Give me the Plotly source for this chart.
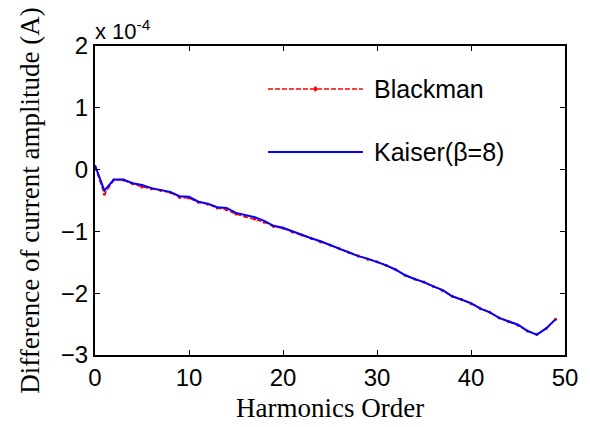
import plotly.graph_objects as go

# Harmonic orders 0..49
harmonic_order = list(range(50))

# Current amplitude differences, in units of 1e-4 A
kaiser_diff = [0.07, -0.34, -0.16, -0.16, -0.22, -0.25, -0.30, -0.33, -0.36, -0.43,
               -0.44, -0.52, -0.55, -0.61, -0.62, -0.70, -0.73, -0.77, -0.83, -0.91,
               -0.94, -1.00, -1.06, -1.11, -1.16, -1.22, -1.28, -1.34, -1.40, -1.44,
               -1.49, -1.55, -1.62, -1.71, -1.77, -1.82, -1.89, -1.95, -2.05, -2.10,
               -2.16, -2.25, -2.31, -2.40, -2.46, -2.51, -2.61, -2.67, -2.57, -2.42]
blackman_diff = [0.05, -0.40, -0.17, -0.17, -0.23, -0.28, -0.31, -0.34, -0.37, -0.45,
                 -0.46, -0.53, -0.56, -0.62, -0.65, -0.72, -0.76, -0.80, -0.85, -0.92,
                 -0.95, -1.01, -1.06, -1.11, -1.17, -1.22, -1.28, -1.34, -1.40, -1.45,
                 -1.49, -1.55, -1.62, -1.71, -1.77, -1.82, -1.89, -1.96, -2.05, -2.10,
                 -2.17, -2.25, -2.31, -2.40, -2.46, -2.52, -2.61, -2.67, -2.57, -2.42]

series_names = ["Blackman", "Kaiser(β=8)"]
x_ticks = [0, 10, 20, 30, 40, 50]
y_ticks = [-3, -2, -1, 0, 1, 2]

SANS = "Arial, 'Liberation Sans', sans-serif"
SERIF = "'Times New Roman', 'Liberation Serif', serif"
TICK_SIZE = 24
TITLE_SIZE = 27
LEGEND_SIZE = 25

fig = go.Figure()
fig.add_trace(go.Scatter(
    x=harmonic_order, y=blackman_diff, mode="lines+markers", name=series_names[0],
    line=dict(color="#ff0000", width=1.5, dash="5px,2px"),
    marker=dict(color="#ff0000", size=3), showlegend=False))
fig.add_trace(go.Scatter(
    x=harmonic_order, y=kaiser_diff, mode="lines", name=series_names[1],
    line=dict(color="#0000ff", width=2), showlegend=False))

axis_common = dict(
    showline=True, linecolor="black", linewidth=2, mirror="ticks",
    ticks="inside", ticklen=5, tickwidth=1, tickcolor="black",
    showgrid=False, zeroline=False,
    tickfont=dict(family=SANS, size=TICK_SIZE, color="black"),
)
fig.update_xaxes(range=[0, 50], tickvals=x_ticks, **axis_common)
fig.update_yaxes(range=[-3, 2], tickvals=y_ticks, **axis_common)

# Axis titles
fig.add_annotation(xref="paper", yref="paper", x=0.5, y=-0.172, xanchor="center", yanchor="middle",
                   text="Harmonics Order", showarrow=False,
                   font=dict(family=SERIF, size=TITLE_SIZE, color="black"))
fig.add_annotation(xref="paper", yref="paper", x=-0.14, y=0.5, xanchor="center", yanchor="middle",
                   text="Difference of current amplitude (A)", textangle=-90, showarrow=False,
                   font=dict(family=SERIF, size=TITLE_SIZE, color="black"))

# Hand-built legend: line samples and labels inside the axes
legend_rows = [(0.861, "#ff0000", "5px,2px", 1.5, True), (0.657, "#0000ff", "solid", 2, False)]
for (ypos, color, dash, width, marker), name in zip(legend_rows, series_names):
    fig.add_shape(type="line", xref="paper", yref="paper", x0=0.368, x1=0.570, y0=ypos, y1=ypos,
                  line=dict(color=color, width=width, dash=dash))
    if marker:
        fig.add_shape(type="circle", xref="paper", yref="paper",
                      x0=0.4655, x1=0.4725, y0=ypos - 0.0085, y1=ypos + 0.0085,
                      line=dict(color=color, width=0), fillcolor=color)
    fig.add_annotation(xref="paper", yref="paper", x=0.589, y=ypos, xanchor="left", yanchor="middle",
                       text=name, showarrow=False, font=dict(family=SANS, size=LEGEND_SIZE, color="black"))

# Exponent label for the y axis
fig.add_annotation(xref="paper", yref="paper", x=-0.004, y=1.0, xanchor="left", yanchor="bottom",
                   yshift=0, text="x 10<sup>-4</sup>", showarrow=False,
                   font=dict(family=SANS, size=22, color="black"))

fig.update_layout(
    width=590, height=427,
    margin=dict(l=95, r=25, t=46, b=72),
    plot_bgcolor="white", paper_bgcolor="white",
)

fig.write_html("out.html")
